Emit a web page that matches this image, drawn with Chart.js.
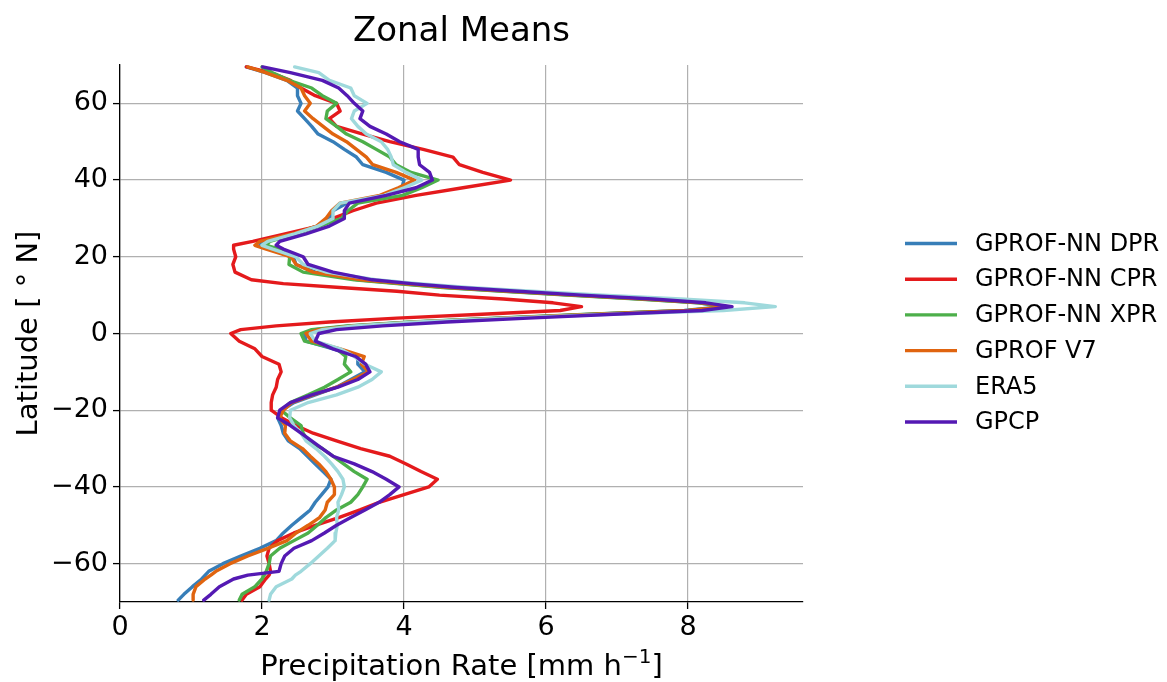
<!DOCTYPE html>
<html>
<head>
<meta charset="utf-8">
<script src="https://cdn.jsdelivr.net/npm/chart.js@4.4.1/dist/chart.umd.min.js"></script>
<style>
  html, body { margin: 0; padding: 0; background: #ffffff; }
  #wrap { width: 1167px; height: 682px; position: relative; }
</style>
</head>
<body>
<div id="wrap"><canvas id="zonal" width="1167" height="682"></canvas></div>
<script>
// Latitude of each sample (degrees north)
const latitudes = [69.5, 68, 66, 64, 62, 60, 58, 56, 54, 52, 50, 48, 46, 44, 42, 40, 38, 36, 34, 32, 30, 28, 26, 24, 23, 22, 20, 18, 16, 14, 13, 12, 11, 10, 9, 8, 7, 6, 5, 4, 3, 2, 1, 0, -2, -4, -6, -8, -10, -12, -14, -16, -18, -20, -22, -24, -26, -28, -30, -32, -34, -36, -38, -40, -42, -44, -46, -48, -50, -52, -54, -56, -58, -60, -62, -63, -64, -66, -68, -69.5];

// Zonal mean precipitation rate (mm/h) per product
const gprofNnDpr = [1.78, 2.05, 2.35, 2.5, 2.5, 2.55, 2.5, 2.6, 2.7, 2.79, 3.0, 3.16, 3.33, 3.42, 3.75, 4.0, 3.97, 3.7, 3.2, 3.0, 2.95, 2.78, 2.46, 2.01, 1.97, 2.1, 2.44, 2.48, 2.75, 3.35, 3.95, 4.6, 5.45, 6.35, 7.35, 8.15, 8.5, 7.95, 6.65, 5.35, 4.15, 3.25, 2.75, 2.6, 2.62, 3.0, 3.35, 3.35, 3.45, 3.25, 3.05, 2.75, 2.45, 2.28, 2.22, 2.27, 2.3, 2.37, 2.53, 2.64, 2.75, 2.86, 2.97, 2.93, 2.84, 2.75, 2.68, 2.55, 2.42, 2.3, 2.2, 1.97, 1.7, 1.45, 1.25, 1.2, 1.15, 1.02, 0.9, 0.82];
const gprofNnCpr = [1.78, 2.12, 2.4, 2.55, 2.75, 3.05, 3.1, 2.95, 3.05, 3.42, 3.8, 4.27, 4.69, 4.78, 5.11, 5.5, 4.83, 4.17, 3.61, 3.28, 3.0, 2.79, 2.34, 1.87, 1.6, 1.6, 1.63, 1.59, 1.62, 1.85, 2.3, 3.1, 3.9, 4.5, 5.4, 6.1, 6.5, 6.2, 5.1, 3.9, 2.95, 2.2, 1.7, 1.56, 1.68, 1.9, 2.0, 2.24, 2.27, 2.22, 2.2, 2.15, 2.13, 2.13, 2.28, 2.48, 2.72, 3.05, 3.39, 3.8, 4.03, 4.24, 4.47, 4.35, 4.0, 3.65, 3.38, 3.08, 2.75, 2.45, 2.22, 2.1, 2.07, 2.1, 2.12, 2.1, 2.05, 1.97, 1.78, 1.72];
const gprofNnXpr = [2.0, 2.15, 2.38, 2.7, 2.85, 3.05, 2.92, 2.9, 3.05, 3.19, 3.42, 3.61, 3.8, 3.89, 4.1, 4.48, 4.25, 3.98, 3.35, 3.21, 3.12, 2.81, 2.48, 2.11, 2.06, 2.25, 2.39, 2.38, 2.58, 3.3, 3.9, 4.55, 5.4, 6.3, 7.3, 8.15, 8.55, 8.0, 6.6, 5.3, 4.1, 3.2, 2.7, 2.55, 2.6, 3.05, 3.18, 3.16, 3.25, 3.07, 2.88, 2.65, 2.4, 2.27, 2.4, 2.55, 2.58, 2.65, 2.85, 3.0, 3.15, 3.3, 3.48, 3.42, 3.35, 3.25, 3.05, 2.9, 2.78, 2.65, 2.45, 2.25, 2.12, 2.1, 2.06, 2.03, 2.0, 1.9, 1.72, 1.68];
const gprofV7 = [1.8, 2.05, 2.35, 2.55, 2.6, 2.68, 2.6, 2.72, 2.86, 3.0, 3.19, 3.33, 3.47, 3.56, 3.89, 4.15, 3.92, 3.66, 3.1, 2.98, 2.9, 2.77, 2.44, 1.97, 1.9, 2.06, 2.41, 2.48, 2.72, 3.4, 4.0, 4.65, 5.5, 6.4, 7.4, 8.2, 8.55, 8.0, 6.7, 5.4, 4.2, 3.3, 2.8, 2.62, 2.7, 3.1, 3.44, 3.4, 3.5, 3.28, 3.05, 2.72, 2.42, 2.3, 2.25, 2.33, 2.32, 2.4, 2.57, 2.68, 2.8, 2.9, 2.97, 3.02, 3.02, 2.92, 2.89, 2.81, 2.65, 2.48, 2.35, 2.08, 1.8, 1.55, 1.35, 1.28, 1.2, 1.07, 1.03, 1.03];
const era5 = [2.46, 2.8, 2.95, 3.25, 3.3, 3.48, 3.3, 3.26, 3.35, 3.47, 3.68, 3.77, 3.82, 3.85, 4.03, 4.25, 4.0, 3.72, 3.1, 3.0, 3.0, 2.79, 2.46, 2.08, 2.0, 2.15, 2.48, 2.58, 2.91, 3.6, 4.2, 4.9, 5.8, 6.8, 7.9, 8.8, 9.23, 8.5, 6.9, 5.45, 4.2, 3.3, 2.85, 2.68, 2.75, 3.1, 3.3, 3.45, 3.68, 3.55, 3.35, 3.05, 2.65, 2.4, 2.39, 2.45, 2.55, 2.62, 2.76, 2.88, 2.98, 3.07, 3.14, 3.16, 3.12, 3.07, 3.08, 3.05, 3.06, 3.04, 3.03, 2.92, 2.8, 2.68, 2.55, 2.47, 2.42, 2.2, 2.12, 2.1];
const gpcp = [2.01, 2.4, 2.85, 3.08, 3.2, 3.3, 3.42, 3.38, 3.52, 3.75, 3.94, 4.2, 4.2, 4.22, 4.36, 4.4, 4.17, 3.75, 3.23, 3.16, 3.16, 2.95, 2.62, 2.25, 2.2, 2.3, 2.58, 2.65, 3.0, 3.55, 4.1, 4.75, 5.6, 6.5, 7.5, 8.25, 8.62, 8.2, 6.95, 5.75, 4.6, 3.7, 3.05, 2.8, 2.75, 3.0, 3.32, 3.46, 3.52, 3.35, 3.07, 2.7, 2.4, 2.25, 2.22, 2.4, 2.55, 2.7, 2.85, 3.0, 3.3, 3.55, 3.75, 3.93, 3.8, 3.65, 3.45, 3.25, 3.05, 2.88, 2.7, 2.45, 2.32, 2.27, 2.24, 1.8, 1.6, 1.4, 1.28, 1.18];

const seriesLabels = ['GPROF-NN DPR', 'GPROF-NN CPR', 'GPROF-NN XPR', 'GPROF V7', 'ERA5', 'GPCP'];
const seriesValues = [gprofNnDpr, gprofNnCpr, gprofNnXpr, gprofV7, era5, gpcp];
const seriesColors = ['#377eb8', '#e41a1c', '#4daf4a', '#e0640f', '#9fd9dc', '#5419b3'];

const xTicks = [0, 2, 4, 6, 8];
const yTicks = [-60, -40, -20, 0, 20, 40, 60];

const FONT = "'DejaVu Sans', sans-serif";
const minus = v => (v < 0 ? '\u2212' + Math.abs(v) : String(v));

const datasets = seriesValues.map((vals, i) => ({
  label: seriesLabels[i],
  data: vals.map((v, k) => ({ x: v, y: latitudes[k] })),
  borderColor: seriesColors[i],
  backgroundColor: seriesColors[i],
  borderWidth: 3.4,
  pointRadius: 0,
  showLine: true,
  fill: false,
  tension: 0,
  borderJoinStyle: 'round',
  borderCapStyle: 'round',
  order: seriesValues.length - i
}));

// Title, axis titles and legend drawn on the canvas
const decorations = {
  id: 'decorations',
  afterDraw(chart) {
    const ctx = chart.ctx;
    const area = chart.chartArea;
    const cx = (area.left + area.right) / 2;
    ctx.save();
    ctx.fillStyle = '#000';

    // title
    ctx.font = `34px ${FONT}`;
    ctx.textAlign = 'center';
    ctx.textBaseline = 'alphabetic';
    ctx.fillText('Zonal Means', cx, 41);

    // x axis title with superscript
    const big = `29px ${FONT}`;
    const small = `20px ${FONT}`;
    const main = 'Precipitation Rate [mm h';
    const sup = '\u22121';
    const close = ']';
    ctx.font = big;
    const wMain = ctx.measureText(main).width;
    const wClose = ctx.measureText(close).width;
    ctx.font = small;
    const wSup = ctx.measureText(sup).width;
    const total = wMain + wSup + wClose;
    const x0 = cx - total / 2;
    const base = 675;
    ctx.textAlign = 'left';
    ctx.font = big;
    ctx.fillText(main, x0, base);
    ctx.font = small;
    ctx.fillText(sup, x0 + wMain, base - 12);
    ctx.font = big;
    ctx.fillText(close, x0 + wMain + wSup, base);

    // y axis title
    ctx.save();
    ctx.translate(37, (area.top + area.bottom) / 2);
    ctx.rotate(-Math.PI / 2);
    ctx.textAlign = 'center';
    ctx.font = big;
    ctx.fillText('Latitude [ \u00b0 N]', 0, 0);
    ctx.restore();

    // legend
    ctx.font = `24px ${FONT}`;
    ctx.textAlign = 'left';
    ctx.textBaseline = 'middle';
    seriesLabels.forEach((lab, i) => {
      const y = 243.5 + i * 35.7;
      ctx.strokeStyle = seriesColors[i];
      ctx.lineWidth = 3.4;
      ctx.beginPath();
      ctx.moveTo(905, y);
      ctx.lineTo(957, y);
      ctx.stroke();
      ctx.fillStyle = '#000';
      ctx.fillText(lab, 975, y + 1);
    });
    ctx.restore();
  }
};

new Chart(document.getElementById('zonal'), {
  type: 'scatter',
  data: { datasets },
  options: {
    responsive: false,
    animation: false,
    events: [],
    layout: { padding: { left: 0, right: 364, top: 65, bottom: 0 } },
    plugins: { legend: { display: false }, title: { display: false }, tooltip: { enabled: false } },
    scales: {
      x: {
        type: 'linear',
        min: 0,
        max: 9.62,
        afterBuildTicks: s => { s.ticks = xTicks.map(v => ({ value: v })); },
        afterFit: s => { s.height = 80; },
        grid: { color: '#b0b0b0', lineWidth: 1.2, tickColor: '#000', tickLength: 7, tickWidth: 1.3 },
        border: { color: '#000', width: 1.3 },
        ticks: { color: '#000', font: { family: FONT, size: 27 }, padding: 3, maxRotation: 0, callback: v => minus(v) }
      },
      y: {
        type: 'linear',
        min: -70,
        max: 70,
        afterBuildTicks: s => { s.ticks = yTicks.map(v => ({ value: v })); },
        afterFit: s => { s.width = 120; },
        grid: { color: '#b0b0b0', lineWidth: 1.2, tickColor: '#000', tickLength: 7, tickWidth: 1.3 },
        border: { color: '#000', width: 1.3 },
        ticks: { color: '#000', font: { family: FONT, size: 27 }, padding: 5, callback: v => minus(v) }
      }
    }
  },
  plugins: [decorations]
});
</script>
</body>
</html>
